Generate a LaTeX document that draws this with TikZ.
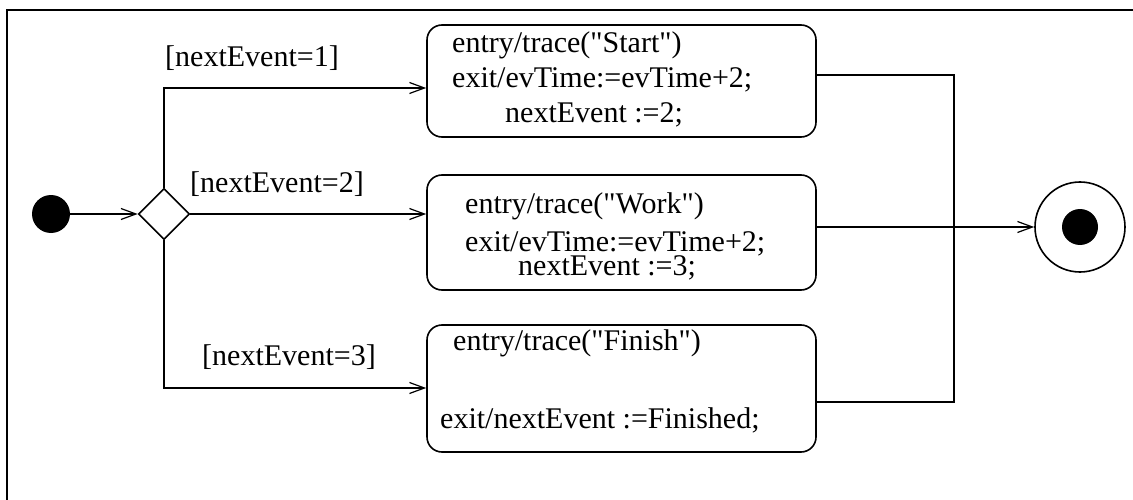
\documentclass[tikz,border=0pt]{standalone}
\usepackage{fontspec}
\setmainfont{Liberation Serif}[Ligatures=TeXOff]
\usetikzlibrary{arrows.meta,shapes.geometric}
\begin{document}
\begin{tikzpicture}[x=1pt,y=-1pt,
  conn/.style={line width=1.2pt},
  arr/.style={conn, -{Straight Barb[length=15pt,width=11pt,line width=1.2pt]}},
  statebox/.style={draw, line width=1.6pt, rounded corners=15pt, minimum width=389pt, inner sep=0pt},
  txt/.style={anchor=base west, inner sep=0pt, font=\fontsize{30}{35}\selectfont},
]
\useasboundingbox (0,0) rectangle (1133,500);
% frame (only its left and top edges fall inside the page)
\draw[line width=2pt] (7,520) -- (7,10) -- (1150,10);

% states
\node[circle, fill=black, minimum size=38pt, inner sep=0pt] (init) at (51,214) {};
\node[diamond, draw, line width=1.6pt, minimum size=51pt, inner sep=0pt] (dec) at (164,214) {};
\node[statebox, minimum height=112pt] (s1) at (621.5,81) {};
\node[statebox, minimum height=115pt] (s2) at (621.5,232.5) {};
\node[statebox, minimum height=127pt] (s3) at (621.5,388.5) {};
\node[circle, draw, line width=1.6pt, minimum size=90pt, inner sep=0pt] (fin) at (1080,227) {};
\node[circle, fill=black, minimum size=36pt, inner sep=0pt] (finc) at (1080,227) {};

% state actions
\node[txt] (t1a) at (452,53) {entry/trace("Start")};
\node[txt] (t1b) at (452,88) {exit/evTime:=evTime+2;};
\node[txt] (t1c) at (505,123) {nextEvent :=2;};
\node[txt] (t2a) at (465,213) {entry/trace("Work")};
\node[txt] (t2b) at (465,251) {exit/evTime:=evTime+2;};
\node[txt] (t2c) at (518,275) {nextEvent :=3;};
\node[txt] (t3a) at (453,350) {entry/trace("Finish")};
\node[txt] (t3b) at (440,428) {exit/nextEvent :=Finished;};

% guards
\node[txt] (g1) at (165,67) {[nextEvent=1]};
\node[txt] (g2) at (190,193) {[nextEvent=2]};
\node[txt] (g3) at (202,365) {[nextEvent=3]};

% connection points on the state borders
\coordinate (in1) at ([yshift=-7pt]s1.west);
\coordinate (in3) at ([yshift=0.5pt]s3.west);
\coordinate (out1) at ([yshift=6pt]s1.east);
\coordinate (out2) at ([yshift=5.5pt]s2.east);
\coordinate (out3) at ([yshift=-13.5pt]s3.east);
\coordinate (jx) at (954,0);

% transitions
\draw[arr] (init) -- (dec);
\draw[arr] (dec.north) |- (in1);
\draw[arr] (dec.east) -- (dec.east -| s2.west);
\draw[arr] (dec.south) |- (in3);
\draw[conn] (out1) -- (out1 -| jx) -- (out3 -| jx) -- (out3);
\draw[arr] (out2) -- (out2 -| fin.west);
\end{tikzpicture}
\end{document}
